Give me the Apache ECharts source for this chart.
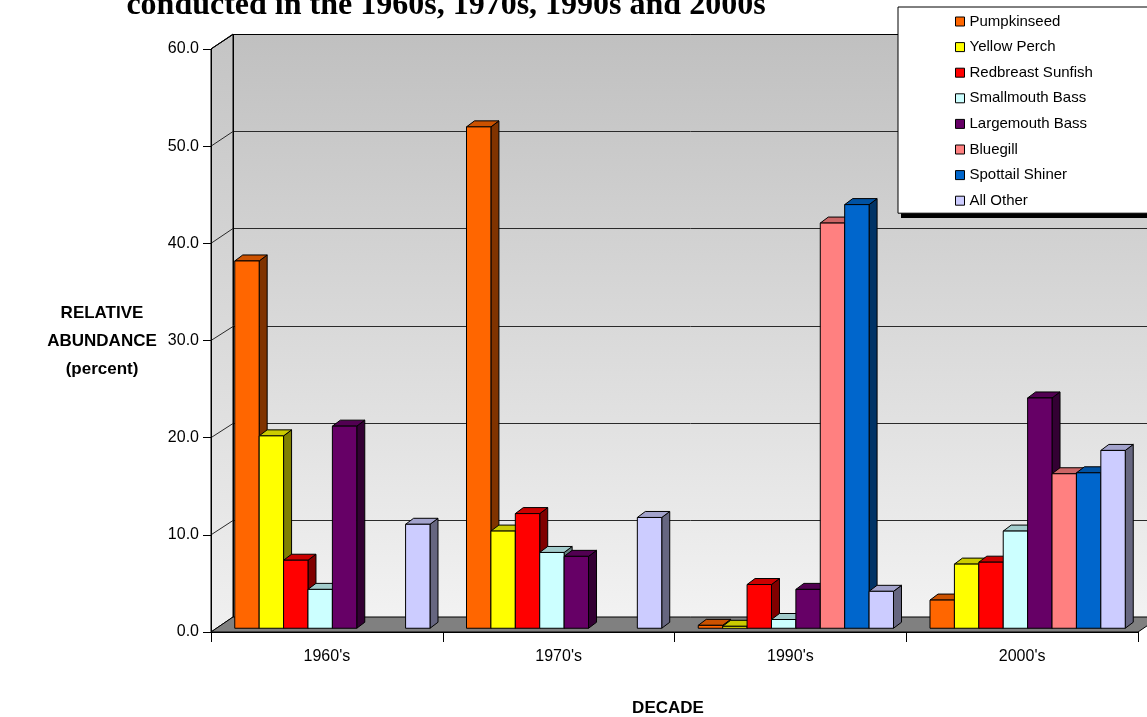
<!DOCTYPE html>
<html>
<head>
<meta charset="utf-8">
<script src="https://cdn.jsdelivr.net/npm/echarts@6/dist/echarts.min.js"></script>
<style>
  html, body { margin: 0; padding: 0; background: #fff; }
  #chart { width: 1147px; height: 717px; }
</style>
</head>
<body>
<div id="chart"></div>
<script>
// Decades sampled and species shown, in legend order
const decades = ["1960's", "1970's", "1990's", "2000's"];
const species = ['Pumpkinseed', 'Yellow Perch', 'Redbreast Sunfish', 'Smallmouth Bass',
                 'Largemouth Bass', 'Bluegill', 'Spottail Shiner', 'All Other'];

// Relative abundance (percent) per decade
const pumpkinseed      = [37.8, 51.6, 0.3, 2.9];
const yellowPerch      = [19.8, 10.0, 0.2, 6.6];
const redbreastSunfish = [7.0, 11.8, 4.5, 6.8];
const smallmouthBass   = [4.0, 7.8, 0.9, 10.0];
const largemouthBass   = [20.8, 7.4, 4.0, 23.7];
const bluegill         = [null, null, 41.7, 15.9];
const spottailShiner   = [null, null, 43.6, 16.0];
const allOther         = [10.7, 11.4, 3.8, 18.3];

// Value axis ticks
const yTicks = [0, 10, 20, 30, 40, 50, 60];

const seriesValues = [pumpkinseed, yellowPerch, redbreastSunfish, smallmouthBass,
                      largemouthBass, bluegill, spottailShiner, allOther];

// Face colours: front, top, side
const palette = [
  ['#FF6600', '#CC5200', '#803300'],
  ['#FFFF00', '#CCCC00', '#808000'],
  ['#FF0000', '#CC0000', '#800000'],
  ['#CCFFFF', '#A3CCCC', '#668080'],
  ['#660066', '#520052', '#330033'],
  ['#FF8080', '#CC6666', '#804040'],
  ['#0066CC', '#0052A3', '#003366'],
  ['#CCCCFF', '#A3A3CC', '#666680']
];

// Pseudo-3D geometry
const DEPTH_X = 22, DEPTH_Y = -15;        // front plane -> back wall
const BAR_PLANE = 0.25;                    // where the bar fronts sit in depth
const BAR_DX = 8, BAR_DY = -6;             // bar thickness
const BAR_FRAC = 0.1053;                   // bar width as share of a category band
const FONT = '"Liberation Sans", Arial, sans-serif';

const chart = echarts.init(document.getElementById('chart'));

function crisp(v) { return Math.round(v) + 0.5; }

// Walls, floor and back-wall gridlines
function renderBackdrop(params, api) {
  const cs = params.coordSys;
  const left = cs.x, right = cs.x + cs.width;
  const top = cs.y, bottom = cs.y + cs.height;
  const farRight = api.getWidth() + 60;
  const children = [];
  const wallFill = new echarts.graphic.LinearGradient(0, 0, 0, 1, [
    { offset: 0, color: '#c0c0c0' }, { offset: 1, color: '#f2f2f2' }
  ]);
  const sideFill = new echarts.graphic.LinearGradient(0, 0, 0, 1, [
    { offset: 0, color: '#c4c4c4' }, { offset: 1, color: '#f0f0f0' }
  ]);
  children.push({
    type: 'polygon',
    shape: { points: [[left + DEPTH_X, top + DEPTH_Y], [farRight, top + DEPTH_Y],
                      [farRight, bottom + DEPTH_Y], [left + DEPTH_X, bottom + DEPTH_Y]] },
    style: { fill: wallFill }
  });
  children.push({
    type: 'polygon',
    shape: { points: [[left, top], [left + DEPTH_X, top + DEPTH_Y],
                      [left + DEPTH_X, bottom + DEPTH_Y], [left, bottom]] },
    style: { fill: sideFill, stroke: '#000', lineWidth: 1 }
  });
  yTicks.forEach(function (v) {
    const y = api.coord([0, v])[1];
    const yb = crisp(y + DEPTH_Y);
    children.push({
      type: 'polyline',
      shape: { points: [[left, y], [left + DEPTH_X, yb], [farRight, yb]] },
      style: { stroke: v === 0 ? 'none' : '#2a2a2a', lineWidth: 1, fill: null }
    });
  });
  children.push({
    type: 'line',
    shape: { x1: crisp(left + DEPTH_X), y1: top + DEPTH_Y, x2: crisp(left + DEPTH_X), y2: bottom + DEPTH_Y },
    style: { stroke: '#000', lineWidth: 1 }
  });
  children.push({
    type: 'polyline',
    shape: { points: [[left, top], [left + DEPTH_X, crisp(top + DEPTH_Y)], [farRight, crisp(top + DEPTH_Y)]] },
    style: { stroke: '#000', lineWidth: 1, fill: null }
  });
  children.push({
    type: 'polygon',
    shape: { points: [[left, bottom], [right, bottom], [right + DEPTH_X, bottom + DEPTH_Y],
                      [left + DEPTH_X, bottom + DEPTH_Y]] },
    style: { fill: '#808080', stroke: '#000', lineWidth: 1 }
  });
  return { type: 'group', children: children };
}

function makeBarRenderer(slot) {
  const c = palette[slot];
  return function (params, api) {
    const v = api.value(1);
    if (v == null || isNaN(v)) return;
    const cat = api.value(0);
    const base = api.coord([cat, 0]);
    const tip = api.coord([cat, v]);
    const band = api.size([1, 0])[0];
    const w = band * BAR_FRAC;
    const sx = DEPTH_X * BAR_PLANE, sy = DEPTH_Y * BAR_PLANE;
    const x0 = base[0] - 4 * w + slot * w + sx;
    const x1 = x0 + w;
    const yb = base[1] + sy;
    const yt = tip[1] + sy;
    const line = { stroke: '#000', lineWidth: 1, lineJoin: 'round' };
    return {
      type: 'group',
      children: [
        { type: 'polygon',
          shape: { points: [[x1, yt], [x1 + BAR_DX, yt + BAR_DY], [x1 + BAR_DX, yb + BAR_DY], [x1, yb]] },
          style: Object.assign({ fill: c[2] }, line) },
        { type: 'polygon',
          shape: { points: [[x0, yt], [x0 + BAR_DX, yt + BAR_DY], [x1 + BAR_DX, yt + BAR_DY], [x1, yt]] },
          style: Object.assign({ fill: c[1] }, line) },
        { type: 'rect',
          shape: { x: x0, y: yt, width: w, height: yb - yt },
          style: Object.assign({ fill: c[0] }, line) }
      ]
    };
  };
}

const series = [{
  name: 'backdrop',
  type: 'custom',
  coordinateSystem: 'cartesian2d',
  silent: true,
  z: 1,
  data: [[0, 0]],
  renderItem: renderBackdrop
}];
species.forEach(function (name, i) {
  series.push({
    name: name,
    type: 'custom',
    coordinateSystem: 'cartesian2d',
    z: 2 + i,
    silent: true,
    itemStyle: { color: palette[i][0] },
    data: seriesValues[i].map(function (v, k) { return [k, v == null ? NaN : v]; }),
    renderItem: makeBarRenderer(i)
  });
});

chart.setOption({
  animation: false,
  backgroundColor: '#fff',
  grid: { left: 211, top: 49, width: 927, height: 583, outerBoundsMode: 'none', containLabel: false },
  xAxis: {
    type: 'category',
    data: decades,
    boundaryGap: true,
    z: 20,
    axisLine: { show: true, lineStyle: { color: '#000', width: 1 } },
    axisTick: { show: true, length: 10, lineStyle: { color: '#000' } },
    axisLabel: { color: '#000', fontFamily: FONT, fontSize: 16, margin: 17 },
    splitLine: { show: false }
  },
  yAxis: {
    type: 'value',
    min: yTicks[0],
    max: yTicks[yTicks.length - 1],
    interval: 10,
    z: 20,
    axisLine: { show: true, lineStyle: { color: '#000', width: 1 } },
    axisTick: { show: true, length: 8, lineStyle: { color: '#000' } },
    axisLabel: { color: '#000', fontFamily: FONT, fontSize: 16, margin: 12,
                 formatter: function (v) { return v.toFixed(1); } },
    splitLine: { show: false }
  },
  legend: {
    orient: 'vertical',
    left: 898,
    top: 7,
    z: 10,
    selectedMode: false,
    data: species.map(function (s, i) {
      return { name: s, icon: 'rect', itemStyle: { color: palette[i][0], borderColor: '#000', borderWidth: 1 } };
    }),
    itemWidth: 9,
    itemHeight: 9,
    itemGap: 10.6,
    padding: [7, 200, 5, 57],
    backgroundColor: '#fff',
    borderColor: '#000',
    borderWidth: 1,
    textStyle: { color: '#000', fontFamily: FONT, fontSize: 15, lineHeight: 15 }
  },
  graphic: [
    // drop shadow under the legend box
    { type: 'rect', z: 5, shape: { x: 901, y: 10, width: 400, height: 208 },
      style: { fill: '#000' } },
    { type: 'text', z: 30,
      style: { text: 'conducted in the 1960s, 1970s, 1990s and 2000s', x: 446, y: 22,
               align: 'center', verticalAlign: 'bottom',
               font: 'bold 32px "Liberation Serif", "Times New Roman", serif', fill: '#000' } },
    { type: 'text', z: 30,
      style: { text: 'RELATIVE\nABUNDANCE\n(percent)', x: 102, y: 341,
               align: 'center', verticalAlign: 'middle', lineHeight: 28,
               font: 'bold 17px "Liberation Sans", Arial, sans-serif', fill: '#000' } },
    { type: 'text', z: 30,
      style: { text: 'DECADE', x: 668, y: 708, align: 'center', verticalAlign: 'middle',
               font: 'bold 17px "Liberation Sans", Arial, sans-serif', fill: '#000' } }
  ],
  series: series
});
</script>
</body>
</html>
